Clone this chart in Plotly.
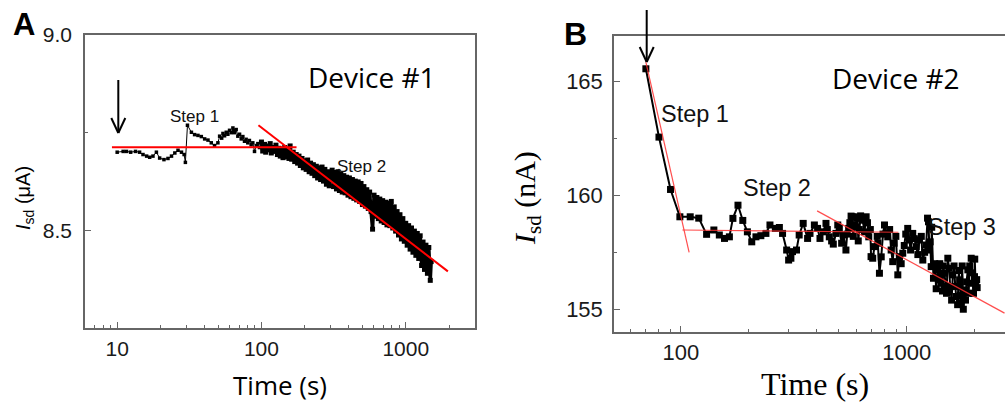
import plotly.graph_objects as go

W, H = 1005, 406

# ---------------- Panel A data (Device #1) ----------------
tA = [10.0, 11.0, 11.6, 12.4, 13.4, 14.3, 15.1, 16.0, 16.8, 17.7, 18.7, 19.7, 21.1, 22.5, 23.8,
      25.1, 26.4, 27.9, 29.1, 29.7, 30.7, 32.7, 34.4, 36.3, 38.3, 40.4, 42.6, 44.9, 47.3, 49.9,
      51.3, 53.0, 54.1, 55.5, 57.0, 58.5, 60.1, 61.8, 63.4, 64.3, 65.1, 66.8, 68.6, 70.5, 72.4,
      74.3, 76.3, 78.3, 80.4, 82.5, 84.8, 87.1, 89.5, 92.0, 94.4, 96.9,
      100, 102, 105, 107, 110, 112, 115, 117, 120, 123, 126, 129, 132, 135, 138, 141,
      145, 148, 151, 155, 158, 162, 166, 170, 174, 178, 182, 186, 191, 195, 200,
      204, 209, 214, 219, 224, 229, 234, 240, 245, 251, 257, 263, 269, 275, 282, 288, 295, 302,
      309, 316, 324, 331, 339, 347, 355, 363, 372, 380, 389, 398,
      407, 417, 427, 437, 447, 457, 468, 479, 490, 501, 513, 525,
      537, 550, 562, 575, 589, 603, 617, 631, 646, 661, 676, 692,
      708, 724, 741, 759, 776, 794, 813, 832, 851, 871, 891, 912, 933, 955, 977,
      1000, 1023, 1047, 1072, 1096, 1122, 1148, 1175, 1202, 1230, 1259, 1288, 1318, 1349, 1380,
      1413, 1445, 1479, 1500]
iA = [8.700, 8.702, 8.702, 8.700, 8.702, 8.700, 8.694, 8.690, 8.687, 8.690, 8.700, 8.685, 8.681, 8.684, 8.690,
      8.698, 8.705, 8.700, 8.694, 8.674, 8.769, 8.751, 8.745, 8.743, 8.740, 8.734, 8.731, 8.724, 8.717, 8.724,
      8.741, 8.736, 8.748, 8.742, 8.751, 8.746, 8.756, 8.750, 8.762, 8.756, 8.750, 8.758, 8.741, 8.746, 8.734,
      8.740, 8.728, 8.733, 8.724, 8.730, 8.719, 8.724, 8.702, 8.717, 8.722, 8.712,
      8.726, 8.703, 8.720, 8.700, 8.716, 8.706, 8.722, 8.698, 8.712, 8.702, 8.718, 8.694, 8.710, 8.690, 8.708, 8.686,
      8.712, 8.688, 8.704, 8.684, 8.716, 8.682, 8.700, 8.676, 8.694, 8.672, 8.690, 8.666, 8.684, 8.660, 8.678,
      8.656, 8.680, 8.650, 8.672, 8.646, 8.668, 8.640, 8.664, 8.634, 8.660, 8.630, 8.662, 8.626, 8.656, 8.618, 8.650, 8.614, 8.646,
      8.654, 8.612, 8.648, 8.606, 8.650, 8.602, 8.644, 8.598, 8.640, 8.596, 8.636, 8.590,
      8.634, 8.586, 8.630, 8.582, 8.626, 8.578, 8.624, 8.574, 8.620, 8.566, 8.612, 8.562,
      8.604, 8.556, 8.598, 8.548, 8.503, 8.590, 8.536, 8.584, 8.530, 8.580, 8.524, 8.576,
      8.520, 8.572, 8.514, 8.570, 8.512, 8.574, 8.506, 8.560, 8.498, 8.548, 8.488, 8.540, 8.478, 8.530, 8.472,
      8.518, 8.462, 8.512, 8.452, 8.506, 8.444, 8.498, 8.436, 8.492, 8.428, 8.486, 8.410, 8.470, 8.400, 8.462,
      8.390, 8.456, 8.372, 8.420]

fitA1_t = [9.2, 175]
fitA1_i = [8.7125, 8.7125]
fitA2_t = [95.3, 1959]
fitA2_i = [8.769, 8.395]

# ---------------- Panel B data (Device #2) ----------------
tB = [70, 80, 90, 99, 110, 120, 130, 140, 148, 156, 164, 170, 179, 188, 197, 206, 215, 226, 238, 248,
      262, 273, 282, 294, 300, 307, 312, 325, 334, 348, 364, 373, 390, 403, 413, 427, 439, 445, 454, 465,
      473, 486, 495, 503, 515, 524, 538, 545, 553, 560, 567, 573, 580, 586, 595, 600, 606, 610, 617, 625,
      638, 650, 661, 670, 679, 690, 695, 707, 720, 740, 745, 757, 771, 785, 797, 811, 824, 840, 853, 867,
      880, 895, 913, 928, 945, 960, 975, 990, 1010, 1027, 1040, 1063, 1080, 1101, 1120, 1138, 1160, 1178,
      1200, 1219, 1236, 1248, 1260, 1270, 1283, 1290, 1313, 1330, 1350, 1372, 1390, 1400, 1420, 1440,
      1450, 1468, 1490, 1500, 1520, 1540, 1557, 1580, 1600, 1620, 1640, 1656, 1680, 1700, 1714, 1730,
      1742, 1760, 1780, 1803, 1820, 1840, 1864, 1880, 1900, 1929, 1945, 1963, 1975, 1995, 2000, 2020,
      2040, 2050]
iB = [165.56, 162.56, 160.26, 159.06, 159.06, 159.00, 158.29, 158.48, 158.26, 158.11, 158.18, 158.99,
      159.57, 158.90, 158.40, 157.96, 158.18, 158.23, 158.33, 158.70,
      158.55, 158.59, 158.33, 157.60, 157.16, 157.24, 157.53, 157.60, 158.26, 158.77, 158.11, 158.33,
      158.70, 158.55, 158.11, 158.40, 158.77, 158.50, 158.18, 158.00,
      157.86, 158.33, 158.70, 158.55, 157.90, 158.26, 157.60, 158.30, 158.55, 158.80, 159.09, 159.06,
      158.20, 158.70, 158.60, 158.99, 159.06, 158.00, 158.50, 159.10,
      158.91, 158.40, 159.06, 158.80, 158.18, 158.50, 157.31, 157.24, 157.75, 158.20, 157.90, 156.58,
      157.30, 158.30, 158.70, 158.33, 158.18, 158.50, 157.60, 157.09,
      157.90, 158.20, 156.51, 157.31, 157.00, 157.46, 157.80, 158.30, 158.55, 158.04, 157.60, 158.33,
      158.10, 157.75, 157.40, 158.04, 158.20, 157.16,
      157.50, 157.82, 159.00, 158.84, 157.60, 157.96, 156.87, 158.60, 156.36, 157.00, 155.90, 156.73,
      156.30, 157.00, 156.14, 155.80,
      156.90, 156.58, 156.00, 155.70, 157.24, 156.80, 155.99, 155.40, 156.51, 156.90, 156.00, 155.56,
      155.20, 156.70, 156.29, 155.60,
      155.27, 156.90, 155.00, 155.85, 155.40, 156.20, 156.73, 155.70, 156.90, 157.24, 156.60, 156.14,
      155.70, 156.43, 157.20, 156.00,
      156.30, 155.95]

fitB1_t = [70.0, 108.8]
fitB1_i = [165.85, 157.50]
fitB2_t = [101.6, 918]
fitB2_i = [158.48, 158.38]
fitB3_t = [401, 2710]
fitB3_i = [159.32, 154.83]

# ---------------- figure ----------------
fig = go.Figure()
split = tA.index(100)  # sparse early record / dense later record (drawn with a heavier stroke)
fig.add_trace(go.Scatter(x=tA[:split + 1], y=iA[:split + 1], mode="lines+markers", xaxis="x", yaxis="y",
                         line=dict(color="black", width=1, simplify=False),
                         marker=dict(symbol="square", size=3.5, color="black", line=dict(width=0)),
                         showlegend=False))
fig.add_trace(go.Scatter(x=tA[split:], y=iA[split:], mode="lines+markers", xaxis="x", yaxis="y",
                         line=dict(color="black", width=3.5, simplify=False, shape="linear"),
                         marker=dict(symbol="square", size=5, color="black", line=dict(width=0)),
                         showlegend=False))
for tx, iy in [(fitA1_t, fitA1_i), (fitA2_t, fitA2_i)]:
    fig.add_trace(go.Scatter(x=tx, y=iy, mode="lines", xaxis="x", yaxis="y",
                             line=dict(color="#ff0000", width=2), showlegend=False))

fig.add_trace(go.Scatter(x=tB, y=iB, mode="lines+markers", xaxis="x2", yaxis="y2",
                         line=dict(color="black", width=2, simplify=False),
                         marker=dict(symbol="square", size=7, color="black", line=dict(width=0)),
                         showlegend=False))
for tx, iy in [(fitB1_t, fitB1_i), (fitB2_t, fitB2_i), (fitB3_t, fitB3_i)]:
    fig.add_trace(go.Scatter(x=tx, y=iy, mode="lines", xaxis="x2", yaxis="y2",
                             line=dict(color="#ff3030", width=1.2), opacity=0.85,
                             showlegend=False))

AX = "#666666"
tickfontA = dict(family="Liberation Sans, Arial", size=21, color="#1a1a1a")
tickfontB = dict(family="Liberation Sans, Arial", size=22, color="#1a1a1a")
minor_log = [d * 10 ** k for k in range(0, 4) for d in range(2, 10)]
common = dict(showline=True, linecolor=AX, linewidth=1.5, showgrid=False, zeroline=False,
              ticks="inside", ticklen=6, tickwidth=1.2, tickcolor=AX, automargin=False)

fig.update_layout(
    width=W, height=H, margin=dict(l=0, r=0, t=0, b=0, autoexpand=False),
    paper_bgcolor="white", plot_bgcolor="white",
    xaxis=dict(type="log", range=[0.777, 3.48], domain=[85 / W, 475 / W], anchor="y", mirror=True,
               tickvals=[10, 100, 1000], ticktext=["10", "100", "1000"], tickfont=tickfontA,
               ticklabelstandoff=1,
               minor=dict(tickvals=minor_log, ticks="inside", ticklen=3, tickcolor=AX, showgrid=False),
               **common),
    yaxis=dict(range=[8.25, 9.0], domain=[1 - 328 / H, 1 - 35 / H], anchor="x", mirror=True,
               tickvals=[8.5, 9.0], ticktext=["8.5", "9.0"], tickfont=tickfontA,
               ticklabelstandoff=7,
               minor=dict(tickvals=[8.25, 8.75], ticks="inside", ticklen=3, tickcolor=AX, showgrid=False),
               **common),
    xaxis2=dict(type="log", range=[1.704, 3.435], domain=[614 / W, 1.0], anchor="y2", mirror=True,
                tickvals=[100, 1000], ticktext=["100", "1000"], tickfont=tickfontB,
                minor=dict(tickvals=minor_log, ticks="inside", ticklen=3, tickcolor=AX, showgrid=False),
                **common),
    yaxis2=dict(range=[154.0, 167.0], domain=[1 - 332 / H, 1 - 36 / H], anchor="x2", mirror=False,
                tickvals=[155, 160, 165], ticktext=["155", "160", "165"], tickfont=tickfontB,
                ticklabelstandoff=5,
                minor=dict(tickvals=[157.5, 162.5], ticks="inside", ticklen=3, tickcolor=AX, showgrid=False),
                **common),
)


def px(x):
    return x / W


def py(y):
    return 1 - y / H


def label(text, x, y, size, family="Liberation Sans, Arial", angle=0, color="black", xanchor="center"):
    fig.add_annotation(text=text, x=px(x), y=py(y), xref="paper", yref="paper",
                       showarrow=False, xanchor=xanchor, yanchor="middle", textangle=angle,
                       font=dict(family=family, size=size, color=color))


label("<b>A</b>", 11, 25, 31, xanchor="left")
label("<b>B</b>", 562, 34, 32, xanchor="left")
label("Device #1", 372, 77, 28, family="Open Sans")
label("Device #2", 896, 78, 28, family="Open Sans")
label("Step 1", 194, 116, 17, color="#111")
label("Step 2", 361, 166, 17, color="#111")
label("Step 1", 695, 114, 23.5, color="#111")
label("Step 2", 777, 188, 23.5, color="#111")
label("Step 3", 962, 227, 23.5, color="#111")
label("Time (s)", 280, 385, 26, family="Open Sans")
label("Time (s)", 815, 384, 32, family="Liberation Serif, Times New Roman")
label("<i>I</i><sub>sd</sub> (μA)", 25, 198, 20, angle=-90)
label("<i>I</i><sub>sd</sub> (nA)", 527, 198, 30, family="Liberation Serif, Times New Roman", angle=-90)

# arrows marking injection time
for (ax_, y0, y1) in [(118.3, 80, 133), (646.7, 10, 62)]:
    fig.add_shape(type="line", xref="paper", yref="paper", x0=px(ax_), x1=px(ax_), y0=py(y0), y1=py(y1),
                  line=dict(color="black", width=2))
    fig.add_shape(type="line", xref="paper", yref="paper", x0=px(ax_ - 7), x1=px(ax_), y0=py(y1 - 15), y1=py(y1),
                  line=dict(color="black", width=2))
    fig.add_shape(type="line", xref="paper", yref="paper", x0=px(ax_ + 7), x1=px(ax_), y0=py(y1 - 15), y1=py(y1),
                  line=dict(color="black", width=2))

fig.write_html("out.html")
